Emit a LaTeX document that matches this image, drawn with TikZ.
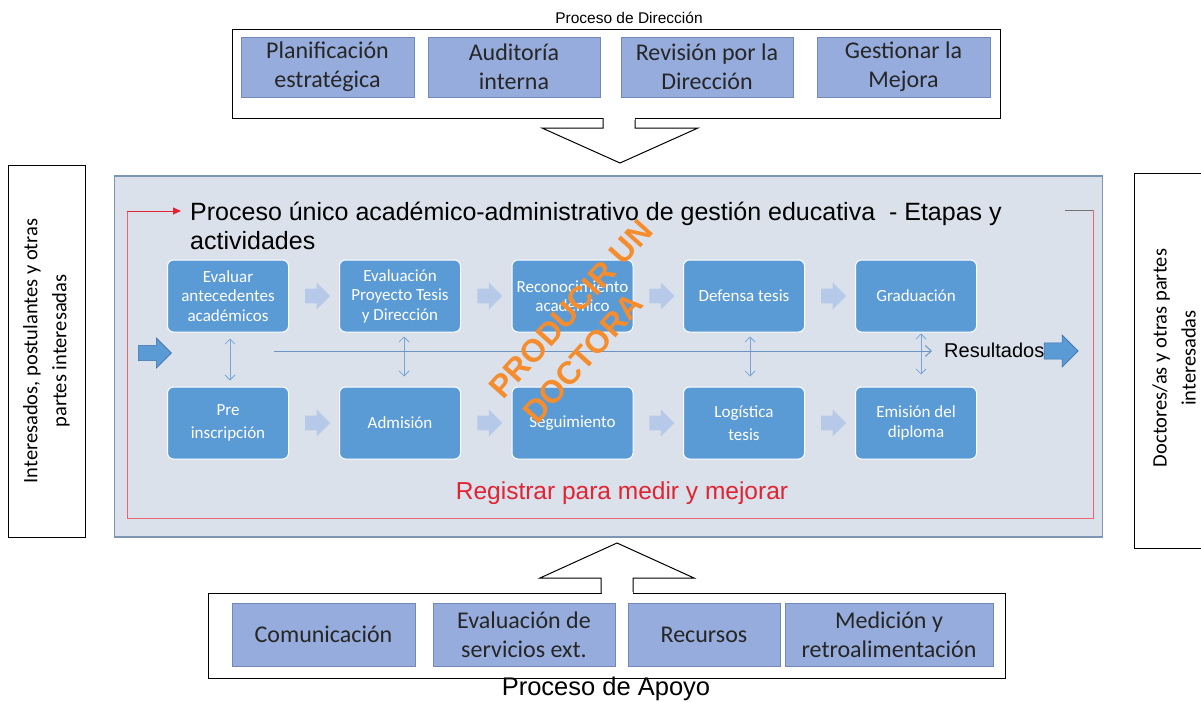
\documentclass[tikz,border=0pt]{standalone}
\usepackage{fontspec}
\setmainfont{Carlito}
\newfontfamily\arialf{Liberation Sans}
\usetikzlibrary{shapes.arrows,arrows.meta,calc}
\definecolor{pbox}{RGB}{150,172,220}
\definecolor{pboxd}{RGB}{115,135,185}
\definecolor{mainfill}{RGB}{218,225,235}
\definecolor{maindraw}{RGB}{125,150,180}
\definecolor{stepfill}{RGB}{91,155,213}
\definecolor{lightarr}{RGB}{182,201,232}
\definecolor{linkblue}{RGB}{120,165,215}
\definecolor{regred}{RGB}{225,35,50}
\definecolor{stampor}{RGB}{245,140,45}
\begin{document}
\begin{tikzpicture}[x=1pt,y=-1pt,
  outerbox/.style={draw=black, line width=1pt, fill=white},
  procbox/.style={draw=pboxd, fill=pbox, line width=0.6pt, inner sep=0pt, align=center,
     font=\fontsize{24}{29}\selectfont, text=black!85},
  sidebox/.style={draw=black, line width=1pt, fill=white},
  stepbox/.style={draw=white, line width=1pt, fill=stepfill, rounded corners=6pt,
     minimum width=121pt, minimum height=72pt, inner sep=0pt, align=center, text=white,
     font=\fontsize{17}{19.5}\selectfont},
  chev/.style={single arrow, fill=lightarr, draw=none, single arrow head extend=6pt,
     single arrow head indent=0pt, inner sep=7pt, minimum height=25pt, minimum width=27pt},
  bigarr/.style={single arrow, fill=stepfill, draw={rgb,255:red,60;green,110;blue,170}, line width=0.6pt,
     single arrow head extend=7pt, single arrow head indent=0pt, inner sep=7pt},
  vlink/.style={draw=linkblue, line width=0.8pt, {Straight Barb[length=5pt,width=10pt]}-{Straight Barb[length=5pt,width=10pt]}},
  stampfont/.style={font=\arialf\bfseries\fontsize{32}{33}\selectfont, rotate=48, inner sep=0pt, text=stampor}
]
\useasboundingbox (0,0) rectangle (1201,701);

% ---------- Proceso de Direccion ----------
\node[font=\arialf\fontsize{15.5}{18}\selectfont] (tdir) at (629,18) {Proceso de Dirección};
\node[outerbox, minimum width=768pt, minimum height=88pt] (topbox) at (616,74) {};
\node[procbox, minimum width=173pt, minimum height=60pt] (d1) at (327.5,67) {Planificación\\estratégica};
\node[procbox, minimum width=172pt, minimum height=60pt] (d2) at (514,67) {Auditoría\\interna};
\node[procbox, minimum width=172pt, minimum height=60pt] (d3) at (707,67) {Revisión por la\\Dirección};
\node[procbox, minimum width=173pt, minimum height=60pt] (d4) at (903.5,67) {Gestionar la\\Mejora};

% down block arrow
\filldraw[fill=white, draw=black, line width=1pt]
  (603,118) -- (603,128) -- (542,128) -- (620,163) -- (698,128) -- (635,128) -- (635,118);
\fill[white] (603.5,116.8) rectangle (634.5,120);

% ---------- side boxes ----------
\node[sidebox, minimum width=77pt, minimum height=372pt] (left) at (46.5,351) {};
\node[rotate=90, align=center, font=\fontsize{20.5}{29}\selectfont] at (left.center) {Interesados, postulantes y otras\\partes interesadas};
\node[sidebox, minimum width=80pt, minimum height=375pt, anchor=north west] (right) at (1134,173) {};
\node[rotate=90, align=center, font=\fontsize{20.5}{29}\selectfont] at (1174,358) {Doctores/as y otras partes\\interesadas};

% ---------- main box ----------
\node[draw=maindraw, fill=mainfill, line width=1.6pt, minimum width=988pt, minimum height=361pt] (main) at (608.5,356.5) {};

% red feedback loop
\coordinate (r0) at (1065,210);
\coordinate (r1) at (1093,210);
\coordinate (r2) at (1093,518);
\coordinate (r3) at (127,518);
\coordinate (r4) at (127,211);
\coordinate (r5) at (181,211);
\draw[black!55, line width=0.8pt] (r0) -- (r1);
\draw[regred!70, line width=0.8pt] (r1) -- (r2) -- (r3) -- (r4);
\draw[regred, line width=0.9pt, -{Triangle[length=8pt,width=7pt]}] (r4) -- (r5);

\node[anchor=west, align=left, font=\arialf\fontsize{25}{29}\selectfont, inner sep=0pt] (title) at (190,226)
  {Proceso único académico-administrativo de gestión educativa\ \ - Etapas y\\actividades};

% steps
\node[stepbox] (e1) at (228,296) {Evaluar\\antecedentes\\académicos};
\node[stepbox] (e2) at (400,296) {Evaluación\\Proyecto Tesis\\y Dirección};
\node[stepbox] (e3) at (572.5,296) {Reconocimiento\\académico};
\node[stepbox] (e4) at (744,296) {Defensa tesis};
\node[stepbox] (e5) at (916,296) {Graduación};

\node[stepbox] (p1) at (228,423) {Pre\\[4pt]inscripción};
\node[stepbox] (p2) at (400,423) {Admisión};
\node[stepbox] (p3) at (572.5,423) {Seguimiento};
\node[stepbox] (p4) at (744,423) {Logística\\[4pt]tesis};
\node[stepbox] (p5) at (916,423) {Emisión del\\diploma};

% chevrons
\foreach \a/\b/\n in {e1/e2/c1,e2/e3/c2,e3/e4/c3,e4/e5/c4,p1/p2/c5,p2/p3/c6,p3/p4/c7,p4/p5/c8}
  \node[chev] (\n) at ($(\a.east)!0.5!(\b.west)$) {};

% vertical links
\draw[vlink] ([xshift=2pt,yshift=-6pt]e1.south) -- ([xshift=2pt,yshift=6pt]p1.north);
\draw[vlink] ([xshift=4pt,yshift=-4pt]e2.south) -- ([xshift=4pt,yshift=10pt]p2.north);
\draw[vlink] ([xshift=6pt,yshift=-4pt]e4.south) -- ([xshift=6pt,yshift=10pt]p4.north);
\draw[vlink] ([xshift=5pt,yshift=-1pt]e5.south) -- ([xshift=5pt,yshift=12pt]p5.north);

% horizontal line
\coordinate (hs) at (274,351);
\coordinate (he) at (932,351);
\draw[linkblue!90!black, line width=1pt, -{Straight Barb[length=6pt,width=11pt]}] (hs) -- (he);

% in/out arrows
\node[bigarr, minimum height=33pt, minimum width=30pt] (inarr) at (151,353) {};
\node[font=\arialf\fontsize{20}{22}\selectfont, anchor=west, inner sep=0pt] (res) at (944,350) {Resultados};
\node[bigarr, minimum height=34pt, minimum width=32pt] (outarr) at (1057,351) {};

\node[font=\arialf\fontsize{24.5}{27}\selectfont, text=regred] (reg) at (622,493) {Registrar para medir y mejorar};

% stamp
\node[stampfont] (st1) at (571,309) {PRODUCIR UN};
\node[stampfont] (st2) at (583,358) {DOCTORA};

% ---------- Proceso de Apoyo ----------
\node[outerbox, minimum width=797pt, minimum height=85pt] (botbox) at (606.5,635.5) {};
\filldraw[fill=white, draw=black, line width=1pt]
  (601,593) -- (601,578) -- (540,578) -- (617,543) -- (694,578) -- (633,578) -- (633,593);
\fill[white] (601.5,591.5) rectangle (632.5,594.2);
\node[procbox, minimum width=183pt, minimum height=63pt] (a1) at (323.5,634.5) {Comunicación};
\node[procbox, minimum width=182pt, minimum height=63pt] (a2) at (524,634.5) {Evaluación de\\servicios ext.};
\node[procbox, minimum width=152pt, minimum height=63pt] (a3) at (704,634.5) {Recursos};
\node[procbox, minimum width=208pt, minimum height=63pt] (a4) at (889,634.5) {Medición y\\retroalimentación};
\node[font=\arialf\fontsize{25.5}{28}\selectfont] (tapo) at (606,689) {Proceso de Apoyo};
\end{tikzpicture}
\end{document}
